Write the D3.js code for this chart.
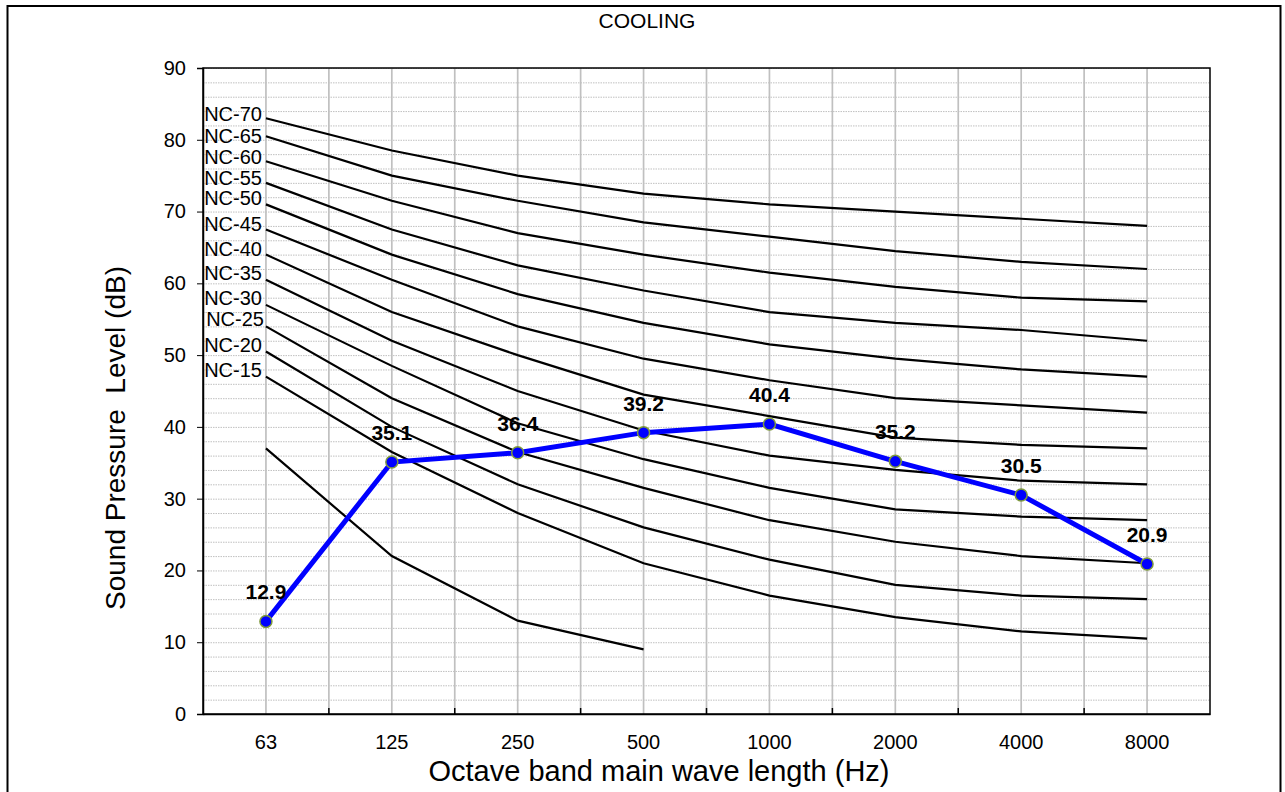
<!DOCTYPE html>
<html>
<head>
<meta charset="utf-8">
<script src="https://cdn.jsdelivr.net/npm/d3@7"></script>
<style>
  body { margin: 0; background: #fff; }
  text { font-family: "Liberation Sans", Arial, sans-serif; fill: #000; }
  .grid line { stroke: #c0c0c0; }
  .grid path { display: none; }
</style>
</head>
<body>
<script>
"use strict";

// octave bands (Hz)
var bands = ["63", "125", "250", "500", "1000", "2000", "4000", "8000"];

// NC reference curves
var nc70 = [83, 78.5, 75, 72.5, 71, 70, 69, 68];
var nc65 = [80.5, 75, 71.5, 68.5, 66.5, 64.5, 63, 62];
var nc60 = [77, 71.5, 67, 64, 61.5, 59.5, 58, 57.5];
var nc55 = [74, 67.5, 62.5, 59, 56, 54.5, 53.5, 52];
var nc50 = [71, 64, 58.5, 54.5, 51.5, 49.5, 48, 47];
var nc45 = [67.5, 60.5, 54, 49.5, 46.5, 44, 43, 42];
var nc40 = [64, 56, 50, 44.5, 41.5, 38.5, 37.5, 37];
var nc35 = [60.5, 52, 45, 39.5, 36, 34, 32.5, 32];
var nc30 = [57, 48.5, 40.5, 35.5, 31.5, 28.5, 27.5, 27];
var nc25 = [54, 44, 36.5, 31.5, 27, 24, 22, 21];
var nc20 = [50.5, 40, 32, 26, 21.5, 18, 16.5, 16];
var nc15 = [47, 36.5, 28, 21, 16.5, 13.5, 11.5, 10.5];
var ncLow = [37, 22, 13, 9];   // unlabelled short curve
var ncNames = ["NC-70", "NC-65", "NC-60", "NC-55", "NC-50", "NC-45",
               "NC-40", "NC-35", "NC-30", "NC-25", "NC-20", "NC-15"];

// measured sound pressure level, cooling
var cooling = [12.9, 35.1, 36.4, 39.2, 40.4, 35.2, 30.5, 20.9];

var yTicks = [0, 10, 20, 30, 40, 50, 60, 70, 80, 90];

var W = 1285, H = 792;
var margin = {top: 68, right: 75, bottom: 78, left: 203};
var width = W - margin.left - margin.right;
var height = H - margin.top - margin.bottom;

// small nudges so the crowded NC labels don't collide
var labelDy = [3, 7, 3, 2, 1, 1, 1, 0, 0, 0, 0, 0];
var labelDx = [0, 0, 0, 0, 0, 0, 0, 0, 0, 2, 0, 0];

var svg = d3.select("body").append("svg")
    .attr("width", W)
    .attr("height", H);

// outer frame
svg.append("rect")
    .attr("x", 7.5).attr("y", 6)
    .attr("width", 1273).attr("height", 800)
    .attr("fill", "none")
    .attr("stroke", "#000")
    .attr("stroke-width", 2);

svg.append("text")
    .attr("x", 647).attr("y", 28)
    .attr("text-anchor", "middle")
    .style("font-size", "21px")
    .text("COOLING");

var g = svg.append("g")
    .attr("transform", "translate(" + margin.left + "," + margin.top + ")");

var x = d3.scaleBand().domain(bands).range([0, width]).padding(0);
var y = d3.scaleLinear().domain([0, 90]).range([height, 0]);
var cx = function(i) { return x(bands[i]) + x.bandwidth() / 2; };

// horizontal dotted grid every 2 dB
g.append("g")
    .attr("class", "grid")
    .call(d3.axisLeft(y).ticks(45).tickSize(-width).tickFormat(""))
    .selectAll("line")
    .attr("stroke-dasharray", "1.5,1")
    .attr("stroke-width", 1);

// vertical grid at band centres and band edges
var vx = [];
bands.forEach(function(b, i) {
    if (i > 0) vx.push(x(b));
    vx.push(cx(i));
});
g.append("g").selectAll("line")
    .data(vx)
    .enter().append("line")
    .attr("x1", function(d) { return d; })
    .attr("x2", function(d) { return d; })
    .attr("y1", 0).attr("y2", height)
    .attr("stroke", "#c0c0c0")
    .attr("stroke-width", 1.7);

// plot frame
g.append("rect")
    .attr("width", width).attr("height", height)
    .attr("fill", "none")
    .attr("stroke", "#000")
    .attr("stroke-width", 1.5);

// y axis
var yAxis = g.append("g")
    .call(d3.axisLeft(y).tickValues(yTicks).tickSize(6).tickPadding(11));
yAxis.select(".domain").attr("stroke-width", 1.5);
yAxis.selectAll("text").style("font-size", "20px").attr("font-family", null);

// x axis: labels at band centres, inward ticks at band edges
var xAxis = g.append("g")
    .attr("transform", "translate(0," + height + ")")
    .call(d3.axisBottom(x).tickSize(0).tickPadding(21));
xAxis.select(".domain").attr("stroke-width", 1.5);
xAxis.selectAll("text").style("font-size", "20px").attr("font-family", null);
g.append("g").selectAll("line")
    .data(bands.slice(1))
    .enter().append("line")
    .attr("x1", function(d) { return x(d); })
    .attr("x2", function(d) { return x(d); })
    .attr("y1", height).attr("y2", height - 6)
    .attr("stroke", "#000")
    .attr("stroke-width", 1.5);

// axis titles
svg.append("text")
    .attr("x", 659).attr("y", 781)
    .attr("text-anchor", "middle")
    .style("font-size", "29px")
    .text("Octave band main wave length (Hz)");

svg.append("text")
    .attr("transform", "translate(125,438) rotate(-90)")
    .attr("text-anchor", "middle")
    .style("font-size", "28px")
    .style("white-space", "pre")
    .text("Sound Pressure  Level (dB)");

// NC curves
var line = d3.line()
    .x(function(d, i) { return cx(i); })
    .y(function(d) { return y(d); });

var ncCurves = [nc70, nc65, nc60, nc55, nc50, nc45, nc40, nc35, nc30, nc25, nc20, nc15, ncLow];

g.selectAll(".nc")
    .data(ncCurves)
    .enter().append("path")
    .attr("class", "nc")
    .attr("d", line)
    .attr("fill", "none")
    .attr("stroke", "#000")
    .attr("stroke-width", 2.2);

g.selectAll(".ncLabel")
    .data(ncNames)
    .enter().append("text")
    .attr("class", "ncLabel")
    .attr("x", function(d, i) { return cx(0) - 4 + labelDx[i]; })
    .attr("y", function(d, i) { return y(ncCurves[i][0]) + labelDy[i]; })
    .attr("text-anchor", "end")
    .style("font-size", "20px")
    .text(function(d) { return d; });

// measured series
g.append("path")
    .datum(cooling)
    .attr("d", line)
    .attr("fill", "none")
    .attr("stroke", "#0000ff")
    .attr("stroke-width", 5);

g.selectAll(".dot")
    .data(cooling)
    .enter().append("circle")
    .attr("class", "dot")
    .attr("cx", function(d, i) { return cx(i); })
    .attr("cy", function(d) { return y(d); })
    .attr("r", 6)
    .attr("fill", "#0000ff")
    .attr("stroke", "#7f9a3c")
    .attr("stroke-width", 1.5);

g.selectAll(".val")
    .data(cooling)
    .enter().append("text")
    .attr("class", "val")
    .attr("x", function(d, i) { return cx(i); })
    .attr("y", function(d) { return y(d) - 22; })
    .attr("text-anchor", "middle")
    .style("font-size", "21px")
    .style("font-weight", "bold")
    .text(function(d) { return d.toFixed(1); });
</script>
</body>
</html>
